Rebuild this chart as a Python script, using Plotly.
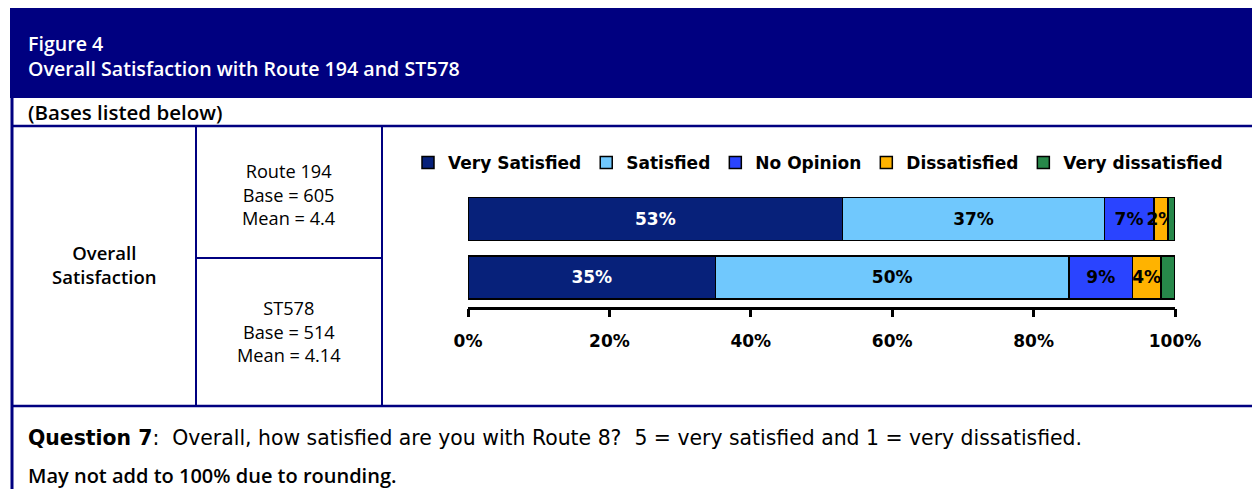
import plotly.graph_objects as go

W, H = 1252, 489

routes = ["Route 194", "ST578"]
categories = ["Very Satisfied", "Satisfied", "No Opinion", "Dissatisfied", "Very dissatisfied"]
very_satisfied = [53, 35]
satisfied = [37, 50]
no_opinion = [7, 9]
dissatisfied = [2, 4]
very_dissatisfied = [1, 2]
series = [very_satisfied, satisfied, no_opinion, dissatisfied, very_dissatisfied]
labels = [
    ["53%", "35%"],
    ["37%", "50%"],
    ["7%", "9%"],
    ["2%", "4%"],
    ["", ""],
]
route_notes = [
    "Route 194<br>Base = 605<br>Mean = 4.4",
    "ST578<br>Base = 514<br>Mean = 4.14",
]
row_label = "Overall<br>Satisfaction"
title_lines = "Figure 4<br>Overall Satisfaction with Route 194 and ST578"
tick_vals = [0, 0.2, 0.4, 0.6, 0.8, 1.0]

colors = ["#07217a", "#70c8fd", "#2a44ff", "#ffb300", "#27884a"]
text_colors = ["white", "black", "black", "black", "black"]

NAVY = "#000080"
TABLE_FONT = "Open Sans"
CHART_FONT = "DejaVu Sans"


def px(x):
    return x / W


def py(y):
    return 1 - y / H


fig = go.Figure()

for name, vals, lab, col, tc in zip(categories, series, labels, colors, text_colors):
    fig.add_trace(
        go.Bar(
            y=routes,
            x=[v / 100 for v in vals],
            name=name,
            orientation="h",
            text=lab,
            textposition="inside",
            insidetextanchor="middle",
            textangle=0,
            constraintext="none",
            textfont=dict(family=CHART_FONT, size=17, color=tc, weight="bold"),
            marker=dict(color=col, line=dict(color="black", width=1.5)),
            cliponaxis=False,
            hoverinfo="skip",
        )
    )

shapes = [
    # header band
    dict(type="rect", x0=px(10), x1=px(1252), y0=py(98), y1=py(8),
         fillcolor=NAVY, line=dict(width=0)),
    # table rules
    dict(type="line", x0=px(12), x1=px(12), y0=py(8), y1=py(489),
         line=dict(color=NAVY, width=3)),
    dict(type="line", x0=px(12), x1=px(1252), y0=py(126), y1=py(126),
         line=dict(color=NAVY, width=2.5)),
    dict(type="line", x0=px(12), x1=px(1252), y0=py(406), y1=py(406),
         line=dict(color=NAVY, width=2.5)),
    dict(type="line", x0=px(196), x1=px(196), y0=py(126), y1=py(406),
         line=dict(color=NAVY, width=2)),
    dict(type="line", x0=px(382), x1=px(382), y0=py(126), y1=py(406),
         line=dict(color=NAVY, width=2)),
    dict(type="line", x0=px(196), x1=px(382), y0=py(258), y1=py(258),
         line=dict(color=NAVY, width=2)),
]
for s in shapes:
    s.update(xref="paper", yref="paper", layer="below")


def note(text, x, y, size=20, color="black", weight="normal", anchor="left", family=TABLE_FONT):
    fig.add_annotation(
        text=text, x=px(x), y=py(y), xref="paper", yref="paper",
        xanchor=anchor, yanchor="middle", showarrow=False,
        align="center" if anchor == "center" else "left",
        font=dict(family=family, size=size, color=color, weight=weight),
    )


note(title_lines, 26, 55.5, size=19.6, color="white", weight=600)
note("(Bases listed below)", 26, 112, size=20.5, weight=600)
note(row_label, 104, 264, size=18.5, weight=600, anchor="center")
note(route_notes[0], 289, 194, size=18.2, anchor="center")
note(route_notes[1], 289, 331, size=18.2, anchor="center")
note("<b>Question 7</b>:\u00a0 Overall, how satisfied are you with Route 8?\u00a0 5 = very satisfied and 1 = very dissatisfied.",
     26, 438, size=20.4, family=CHART_FONT)
note("May not add to 100% due to rounding.", 26, 475, size=20, weight=600)

fig.update_layout(
    template="none",
    width=W,
    height=H,
    autosize=False,
    margin=dict(l=0, r=0, t=0, b=0, pad=0),
    paper_bgcolor="white",
    plot_bgcolor="white",
    barmode="stack",
    bargap=0.265,
    shapes=shapes,
    showlegend=True,
    legend=dict(
        orientation="h",
        x=px(408), y=py(145), xanchor="left", yanchor="top",
        font=dict(family=CHART_FONT, size=17, color="black", weight="bold"),
        itemwidth=30,
        traceorder="normal",
        bgcolor="rgba(0,0,0,0)",
    ),
    xaxis=dict(
        domain=[px(468), px(1175)],
        range=[0, 1],
        automargin=False,
        tickvals=tick_vals,
        tickformat=".0%",
        showgrid=False,
        zeroline=False,
        showline=True,
        linecolor="black",
        linewidth=2.5,
        ticks="outside",
        ticklen=8,
        tickwidth=2.5,
        tickcolor="black",
        ticklabelstandoff=9,
        tickfont=dict(family=CHART_FONT, size=17, color="black", weight="bold"),
        fixedrange=True,
    ),
    yaxis=dict(
        domain=[py(306.7), py(189.7)],
        autorange="reversed",
        automargin=False,
        showticklabels=False,
        showgrid=False,
        zeroline=False,
        showline=False,
        ticks="",
        fixedrange=True,
    ),
)

fig.write_html(
    "out.html",
    config={"displayModeBar": False},
    post_script="document.body.style.margin='0';document.body.style.overflow='hidden';",
)
